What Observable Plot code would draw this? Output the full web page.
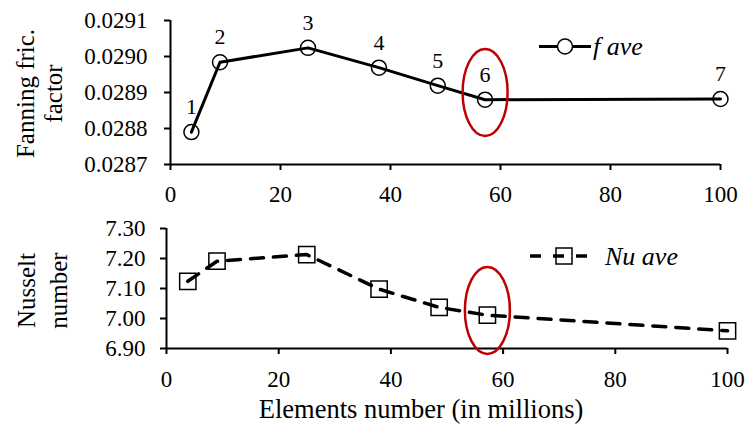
<!DOCTYPE html>
<html><head><meta charset="utf-8">
<script src="https://cdn.jsdelivr.net/npm/d3@7"></script>
<script src="https://cdn.jsdelivr.net/npm/@observablehq/plot@0.6"></script>
<style>
body{margin:0;background:#fff;}
#wrap{position:relative;width:746px;height:426px;font-family:"Liberation Serif","Times New Roman",serif;}
#wrap svg{display:block;overflow:visible;}
</style></head><body><div id="wrap"><div id="top"></div><div id="bottom"></div></div>
<script>
// ---- data ----
const elements = [3.8, 9.0, 25.0, 37.9, 48.6, 57.2, 100];
const fanning = [0.02879, 0.028984, 0.029024, 0.028969, 0.028919, 0.028880, 0.028882];
const nusselt = [7.124, 7.191, 7.213, 7.098, 7.037, 7.011, 6.959];
const pointLabels = ["1", "2", "3", "4", "5", "6", "7"];
const xTicks = [0, 20, 40, 60, 80, 100];
const fTicks = [0.0287, 0.0288, 0.0289, 0.0290, 0.0291];
const nuTicks = [6.90, 7.00, 7.10, 7.20, 7.30];
const legendLabels = ["f ave", "Nu ave"];
const fLabelLines = ["Fanning fric.", "factor"];
const nuLabelLines = ["Nusselt", "number"];
const xTitle = ["Elements number (in millions)"];
const highlightX = [57.2];
const highlightF = [0.02890];
const highlightNu = [7.027];

const serif = '"Liberation Serif","Times New Roman",serif';
const ellipseSym = (rx, ry) => ({draw(ctx) {
  const k = 0.5523;
  ctx.moveTo(rx, 0);
  ctx.bezierCurveTo(rx, ry * k, rx * k, ry, 0, ry);
  ctx.bezierCurveTo(-rx * k, ry, -rx, ry * k, -rx, 0);
  ctx.bezierCurveTo(-rx, -ry * k, -rx * k, -ry, 0, -ry);
  ctx.bezierCurveTo(rx * k, -ry, rx, -ry * k, rx, 0);
  ctx.closePath();
}});

const fData = elements.map((x, i) => ({x, y: fanning[i], label: pointLabels[i]}));
const nuData = elements.map((x, i) => ({x, y: nusselt[i]}));

const topPlot = Plot.plot({
  width: 746, height: 200,
  marginLeft: 170, marginRight: 26, marginTop: 20, marginBottom: 36,
  style: {fontFamily: serif, fontSize: "22px", color: "#000", background: "transparent"},
  x: {domain: [0, 100], label: null},
  y: {domain: [0.0287, 0.0291], label: null},
  marks: [
    Plot.ruleY([0.0287], {stroke: "#000", strokeWidth: 2}),
    Plot.ruleX([0], {stroke: "#000", strokeWidth: 2}),
    Plot.axisX({ticks: xTicks, tickSize: 6, tickPadding: 15, tickFormat: d => String(d), fontSize: 23, stroke: "#000", strokeWidth: 2, label: null}),
    Plot.axisY({ticks: fTicks, tickSize: 6, tickPadding: 17, tickFormat: d => d.toFixed(4), fontSize: 23, stroke: "#000", strokeWidth: 2, label: null}),
    Plot.line(fData, {x: "x", y: "y", stroke: "#000", strokeWidth: 3}),
    Plot.dot(fData, {x: "x", y: "y", r: 7.5, stroke: "#000", fill: "none", strokeWidth: 1.5}),
    Plot.text(fData, {x: "x", y: "y", text: "label", dy: -25, fontSize: 22}),
    Plot.dot(highlightX, {x: d => d, y: (d, i) => highlightF[i], r: 1, symbol: ellipseSym(22.5, 43.5), stroke: "#c00000", strokeWidth: 2.5, fill: "none"}),
    Plot.text([fLabelLines[0]], {frameAnchor: "left", dx: -145, dy: 1, rotate: -90, textAnchor: "middle", lineAnchor: "middle", fontSize: 25}),
    Plot.text([fLabelLines[1]], {frameAnchor: "left", dx: -117, dy: 1, rotate: -90, textAnchor: "middle", lineAnchor: "middle", fontSize: 25})
  ]
});

const bottomPlot = Plot.plot({
  width: 746, height: 226,
  marginLeft: 166, marginRight: 19, marginTop: 28, marginBottom: 78,
  style: {fontFamily: serif, fontSize: "22px", color: "#000", background: "transparent"},
  x: {domain: [0, 100], label: null},
  y: {domain: [6.9, 7.3], label: null},
  marks: [
    Plot.ruleY([6.9], {stroke: "#000", strokeWidth: 2}),
    Plot.ruleX([0], {stroke: "#000", strokeWidth: 2}),
    Plot.axisX({ticks: xTicks, tickSize: 6, tickPadding: 16, tickFormat: d => String(d), fontSize: 23, stroke: "#000", strokeWidth: 2, label: null}),
    Plot.axisY({ticks: nuTicks, tickSize: 6, tickPadding: 15, tickFormat: d => d.toFixed(2), fontSize: 23, stroke: "#000", strokeWidth: 2, label: null}),
    Plot.line(nuData, {x: "x", y: "y", stroke: "#000", strokeWidth: 3.5, strokeDasharray: "13,10"}),
    Plot.dot(nuData, {x: "x", y: "y", r: 9.2, symbol: "square", stroke: "#000", fill: "none", strokeWidth: 1.5}),
    Plot.dot(highlightX, {x: d => d, y: (d, i) => highlightNu[i], r: 1, symbol: ellipseSym(22.5, 43.5), stroke: "#c00000", strokeWidth: 2.5, fill: "none"}),
    Plot.text([nuLabelLines[0]], {frameAnchor: "left", dx: -140, dy: 2, rotate: -90, textAnchor: "middle", lineAnchor: "middle", fontSize: 25}),
    Plot.text([nuLabelLines[1]], {frameAnchor: "left", dx: -108, dy: 2, rotate: -90, textAnchor: "middle", lineAnchor: "middle", fontSize: 25}),
    Plot.text(xTitle, {frameAnchor: "bottom", dx: -26, dy: 61, textAnchor: "middle", lineAnchor: "middle", fontSize: 26.5})
  ]
});

document.getElementById("top").appendChild(topPlot);
document.getElementById("bottom").appendChild(bottomPlot);

// ---- legends (overlay) ----
const svg = d3.select("#wrap").append("svg")
  .attr("width", 746).attr("height", 426)
  .style("position", "absolute").style("left", "0px").style("top", "0px")
  .style("pointer-events", "none");
const g1 = svg.append("g");
g1.append("line").attr("x1", 539).attr("x2", 591).attr("y1", 46.5).attr("y2", 46.5).attr("stroke", "#000").attr("stroke-width", 3);
g1.append("circle").attr("cx", 565).attr("cy", 46.5).attr("r", 7.5).attr("fill", "#fff").attr("stroke", "#000").attr("stroke-width", 1.5);
g1.append("text").attr("x", 593).attr("y", 55).attr("font-family", serif).attr("font-style", "italic").attr("font-size", 26).text(legendLabels[0]);
const g2 = svg.append("g");
g2.append("line").attr("x1", 530).attr("x2", 589).attr("y1", 256).attr("y2", 256).attr("stroke", "#000").attr("stroke-width", 3.5).attr("stroke-dasharray", "11,12");
g2.append("rect").attr("x", 556).attr("y", 248).attr("width", 16).attr("height", 16).attr("fill", "none").attr("stroke", "#000").attr("stroke-width", 1.5);
g2.append("text").attr("x", 605).attr("y", 265).attr("font-family", serif).attr("font-style", "italic").attr("font-size", 26).text(legendLabels[1]);
</script></body></html>
